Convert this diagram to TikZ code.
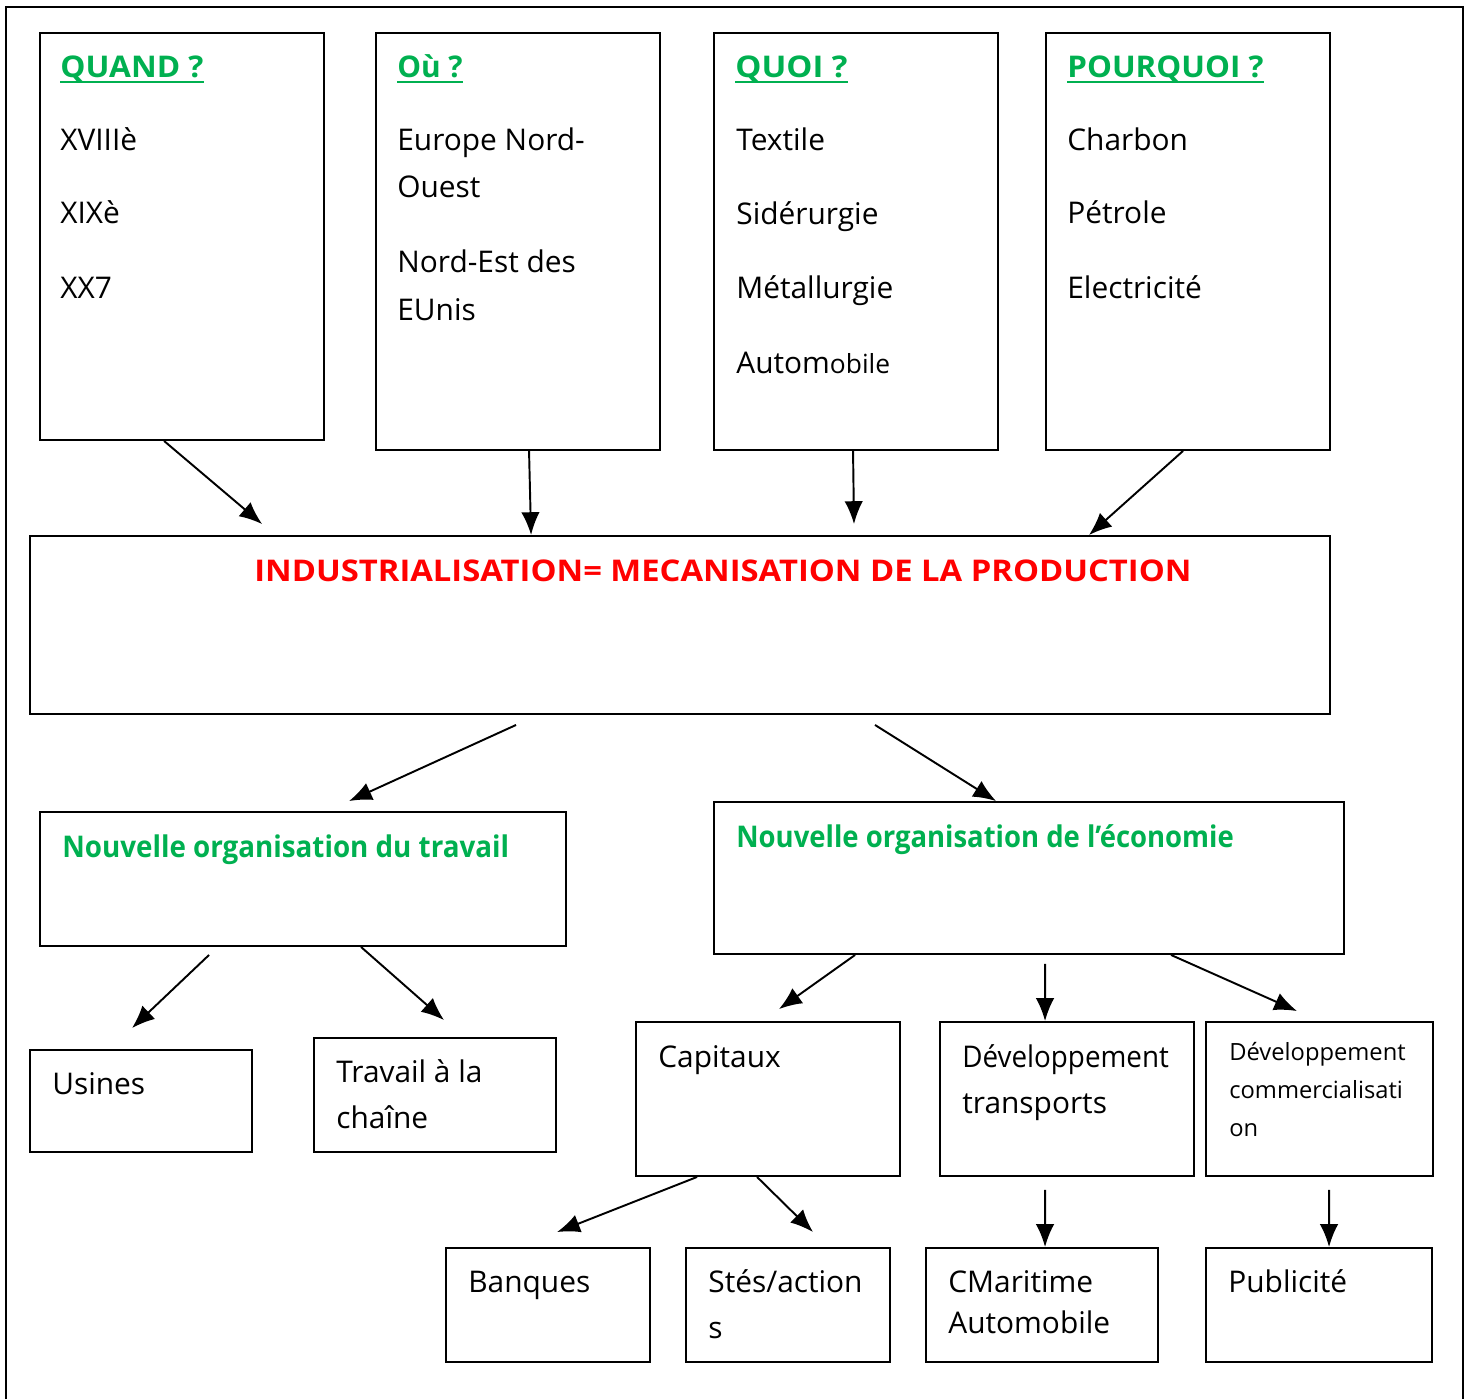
\documentclass[tikz,border=0pt]{standalone}
\usepackage{fontspec}
\setmainfont{Open Sans}
\usetikzlibrary{arrows.meta}
\definecolor{vert}{HTML}{00B050}
\definecolor{rouge}{HTML}{FF0000}
\newcommand{\souligne}[1]{{\setbox0\hbox{#1}\rlap{\vrule height -2pt depth 3.6pt width \wd0}\box0}}
\tikzset{
  boite/.style={draw, line width=1.1pt, inner sep=0pt},
  texte/.style={anchor=base west, inner sep=0pt, font=\fontsize{17}{20}\selectfont},
  titre/.style={font=\fontsize{17}{20}\selectfont\bfseries, text=vert},
  fleche/.style={->, >={Latex[length=13pt,width=10.5pt]}, line width=1.1pt}
}
\begin{document}
\begin{tikzpicture}[x=0.02cm,y=-0.02cm]
\useasboundingbox (0,0) rectangle (1469,1399);
%cadre
\draw[line width=1.1pt] (6,1399) -- (6,7) -- (1463,7) -- (1463,1399);
%boites du haut
\node[boite, minimum width=5.68cm, minimum height=8.14cm] (quand) at (182,236.5) {};
\node[boite, minimum width=5.68cm, minimum height=8.34cm] (ou) at (518,241.5) {};
\node[boite, minimum width=5.68cm, minimum height=8.34cm] (quoi) at (856,241.5) {};
\node[boite, minimum width=5.68cm, minimum height=8.34cm] (pourquoi) at (1188,241.5) {};
\node[texte, titre] (tquand) at (60,77) {\souligne{\scalebox{1.06}[1]{QUAND ?}}};
\node[texte] (quand1) at (60,150) {XVIIIè};
\node[texte] (quand2) at (60,223) {XIXè};
\node[texte] (quand3) at (60,298) {XX7};
\node[texte, titre] (tou) at (397,77) {\souligne{Où ?}};
\node[texte] (ou1) at (397,150) {Europe Nord-};
\node[texte] (ou2) at (397,197) {Ouest};
\node[texte] (ou3) at (397,272) {Nord-Est des};
\node[texte] (ou4) at (397,320) {EUnis};
\node[texte, titre] (tquoi) at (735,77) {\souligne{\scalebox{1.1}[1]{QUOI ?}}};
\node[texte] (quoi1) at (736,150) {Textile};
\node[texte] (quoi2) at (736,224) {Sidérurgie};
\node[texte] (quoi3) at (736,298) {Métallurgie};
\node[texte] (quoi4) at (736,373) {Autom{\fontsize{15}{18}\selectfont obile}};
\node[texte, titre] (tpourquoi) at (1067,77) {\souligne{\scalebox{1.05}[1]{POURQUOI ?}}};
\node[texte] (pourquoi1) at (1067,150) {Charbon};
\node[texte] (pourquoi2) at (1067,223) {Pétrole};
\node[texte] (pourquoi3) at (1067,298) {Electricité};
%boite centrale
\node[boite, minimum width=26cm, minimum height=3.56cm] (indus) at (680,625) {};
\node[texte, font=\fontsize{17}{20}\selectfont\bfseries, text=rouge] (tindus) at (254,581) {\scalebox{1.097}[1]{INDUSTRIALISATION= MECANISATION DE LA PRODUCTION}};
%fleches du haut
\draw[fleche] ([xshift=2.5cm]quand.south west) -- ([xshift=4.66cm,yshift=0.22cm]indus.north west);
\draw[fleche] ([xshift=3.08cm]ou.south west) -- ([xshift=10.04cm]indus.north west);
\draw[fleche] ([xshift=2.8cm]quoi.south west) -- ([xshift=16.5cm,yshift=0.22cm]indus.north west);
\draw[fleche] ([xshift=2.76cm]pourquoi.south west) -- ([xshift=21.2cm]indus.north west);
%deux organisations
\node[boite, minimum width=10.52cm, minimum height=2.68cm] (travail) at (303,879) {};
\node[boite, minimum width=12.6cm, minimum height=3.04cm] (economie) at (1029,878) {};
\node[texte, titre] (ttravail) at (62,857) {\scalebox{0.93}[1]{Nouvelle organisation du travail}};
\node[texte, titre] (teconomie) at (736,847) {\scalebox{0.92}[1]{Nouvelle organisation de l’économie}};
\draw[fleche] ([xshift=9.74cm,yshift=-0.2cm]indus.south west) -- ([xshift=6.2cm,yshift=0.2cm]travail.north west);
\draw[fleche] ([xshift=16.92cm,yshift=-0.2cm]indus.south west) -- ([xshift=5.66cm]economie.north west);
%travail
\node[boite, minimum width=4.44cm, minimum height=2.04cm] (usines) at (141,1101) {};
\node[boite, minimum width=4.84cm, minimum height=2.28cm] (chaine) at (435,1095) {};
\node[texte] (tusines) at (52,1094) {Usines};
\node[texte] (chaine1) at (336,1082) {Travail à la};
\node[texte] (chaine2) at (336,1128) {chaîne};
\draw[fleche] ([xshift=3.4cm,yshift=-0.16cm]travail.south west) -- ([xshift=2.06cm,yshift=0.42cm]usines.north west);
\draw[fleche] ([xshift=6.44cm]travail.south west) -- ([xshift=2.62cm,yshift=0.34cm]chaine.north west);
%economie
\node[boite, minimum width=5.28cm, minimum height=3.08cm] (capitaux) at (768,1099) {};
\node[boite, minimum width=5.08cm, minimum height=3.08cm] (transports) at (1067,1099) {};
\node[boite, minimum width=4.54cm, minimum height=3.08cm] (commerce) at (1319.5,1099) {};
\node[texte] (tcapitaux) at (658,1067) {Capitaux};
\node[texte] (transports1) at (962,1067) {\scalebox{0.93}[1]{Développement}};
\node[texte] (transports2) at (962,1113) {transports};
\node[texte, font=\fontsize{13.5}{16}\selectfont] (commerce1) at (1229,1060) {Développement};
\node[texte, font=\fontsize{13.5}{16}\selectfont] (commerce2) at (1229,1098) {commercialisati};
\node[texte, font=\fontsize{13.5}{16}\selectfont] (commerce3) at (1229,1136) {on};
\draw[fleche] ([xshift=2.84cm]economie.south west) -- ([xshift=2.88cm,yshift=0.24cm]capitaux.north west);
\draw[fleche] ([xshift=6.64cm,yshift=-0.18cm]economie.south west) -- ([xshift=2.12cm]transports.north west);
\draw[fleche] ([xshift=9.16cm]economie.south west) -- ([xshift=1.84cm,yshift=0.2cm]commerce.north west);
%derniere ligne
\node[boite, minimum width=4.08cm, minimum height=2.28cm] (banques) at (548,1305) {};
\node[boite, minimum width=4.08cm, minimum height=2.28cm] (actions) at (788,1305) {};
\node[boite, minimum width=4.64cm, minimum height=2.28cm] (maritime) at (1042,1305) {};
\node[boite, minimum width=4.52cm, minimum height=2.28cm] (pub) at (1319,1305) {};
\node[texte] (tbanques) at (468,1292) {Banques};
\node[texte] (actions1) at (708,1292) {Stés/action};
\node[texte] (actions2) at (708,1338) {s};
\node[texte] (maritime1) at (948,1292) {CMaritime};
\node[texte] (maritime2) at (948,1333) {Automobile};
\node[texte] (tpub) at (1228,1292) {Publicité};
\draw[fleche] ([xshift=1.24cm]capitaux.south west) -- ([xshift=2.24cm,yshift=0.3cm]banques.north west);
\draw[fleche] ([xshift=2.44cm]capitaux.south west) -- ([xshift=2.56cm,yshift=0.3cm]actions.north west);
\draw[fleche] ([xshift=2.12cm,yshift=-0.26cm]transports.south west) -- ([xshift=2.4cm]maritime.north west);
\draw[fleche] ([xshift=2.48cm,yshift=-0.26cm]commerce.south west) -- ([xshift=2.48cm]pub.north west);
\end{tikzpicture}
\end{document}
